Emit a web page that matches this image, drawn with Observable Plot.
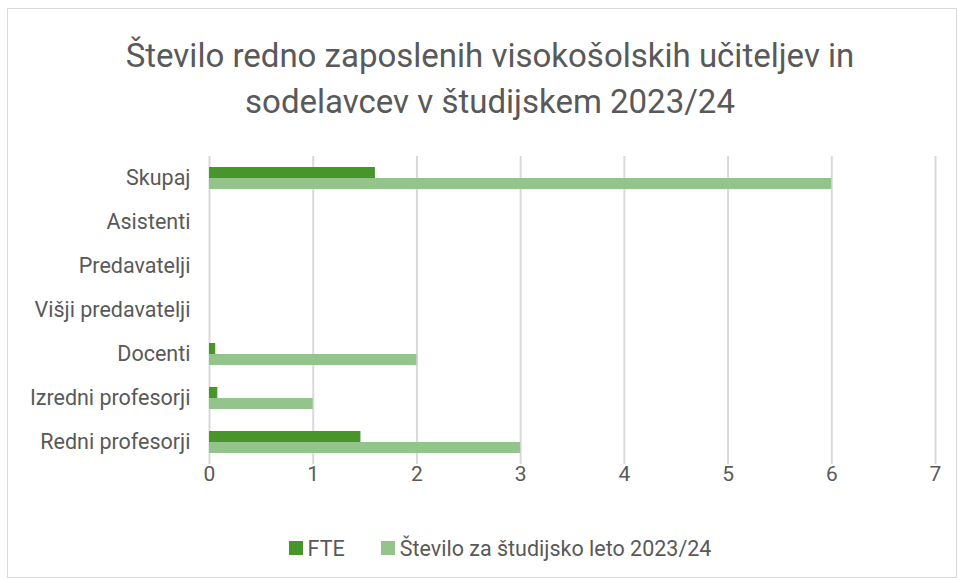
<!DOCTYPE html>
<html>
<head>
<meta charset="utf-8">
<script src="https://cdn.jsdelivr.net/npm/d3@7"></script>
<script src="https://cdn.jsdelivr.net/npm/@observablehq/plot@0.6"></script>
<style>
  html, body { margin: 0; padding: 0; background: #fff; }
  body { width: 958px; height: 579px; position: relative; overflow: hidden; font-family: Roboto, "Open Sans", sans-serif; }
  #frame { position: absolute; left: 7px; top: 8px; width: 950px; height: 570px; border: 1px solid #d9d9d9; box-sizing: border-box; }
  #title { position: absolute; left: 0; width: 980px; top: 33px; text-align: center; color: #595959; font-size: 33px; line-height: 46px; font-weight: 400; }
  #plot { position: absolute; left: 0; top: 140px; }
  #legend { position: absolute; top: 535px; left: 0; width: 1000px; text-align: center; color: #595959; font-size: 21.5px; }
  .item { display: inline-flex; align-items: center; margin: 0 18px; }
  .sw { width: 14px; height: 14px; display: inline-block; margin-right: 5px; }
</style>
</head>
<body>
<div id="frame"></div>
<div id="title">Število redno zaposlenih visokošolskih učiteljev in<br>sodelavcev v študijskem 2023/24</div>
<div id="plot"></div>
<div id="legend"></div>
<script>
const categories = ["Skupaj", "Asistenti", "Predavatelji", "Višji predavatelji", "Docenti", "Izredni profesorji", "Redni profesorji"];
const seriesNames = ["FTE", "Število za študijsko leto 2023/24"];
const fteValues = [1.6, 0, 0, 0, 0.06, 0.08, 1.46];
const stevValues = [6, 0, 0, 0, 2, 1, 3];
const colors = ["#47952b", "#93c48b"];
const xTicks = [0, 1, 2, 3, 4, 5, 6, 7];

const data = [];
categories.forEach((c, i) => {
  data.push({cat: c, series: seriesNames[0], value: fteValues[i]});
  data.push({cat: c, series: seriesNames[1], value: stevValues[i]});
});

const chart = Plot.plot({
  width: 958,
  height: 384,
  marginTop: 15,
  marginBottom: 60,
  marginLeft: 209,
  marginRight: 23,
  style: {fontFamily: "Roboto, 'Open Sans', sans-serif", fontSize: "21px", color: "#595959", background: "transparent"},
  x: {domain: [0, 7], ticks: xTicks, label: null},
  y: {domain: seriesNames, paddingInner: 0, paddingOuter: 1.0, axis: null},
  fy: {domain: categories, padding: 0, label: null},
  color: {domain: seriesNames, range: colors},
  marks: [
    Plot.gridX(xTicks, {stroke: "#d9d9d9", strokeWidth: 2, strokeOpacity: 1}),
    Plot.barX(data, {x: "value", y: "series", fy: "cat", fill: "series"}),
    Plot.axisX({ticks: xTicks, tickFormat: d3.format("d"), tickSize: 0, tickPadding: 2, fontSize: 21, fill: "#595959", label: null}),
    Plot.axisFy({anchor: "left", tickSize: 0, tickPadding: 19, fontSize: 21.5, fill: "#595959", label: null})
  ]
});
document.getElementById("plot").appendChild(chart);

const legend = document.getElementById("legend");
seriesNames.forEach((s, i) => {
  const it = document.createElement("span");
  it.className = "item";
  const sw = document.createElement("span");
  sw.className = "sw";
  sw.style.background = colors[i];
  it.appendChild(sw);
  it.appendChild(document.createTextNode(s));
  legend.appendChild(it);
});
</script>
</body>
</html>
